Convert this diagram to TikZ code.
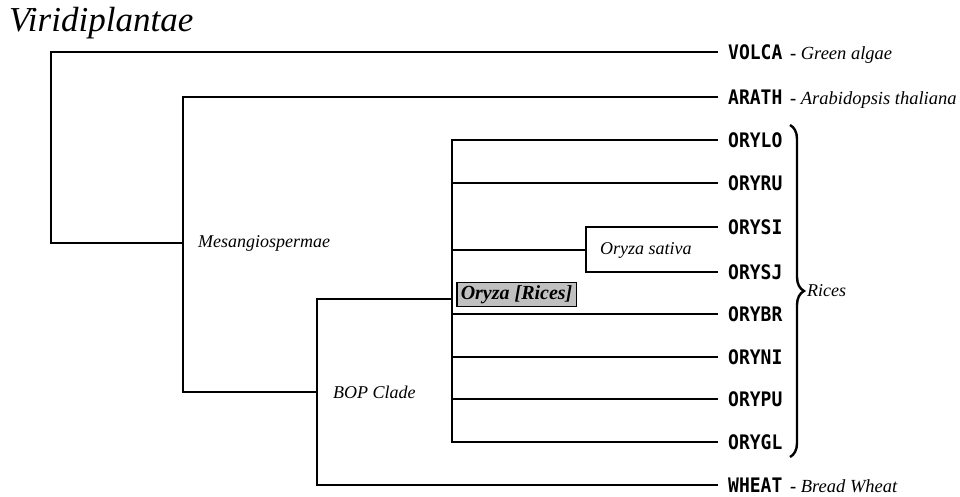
\documentclass[tikz,border=0pt]{standalone}
\usepackage{fontspec}
\setmainfont{Liberation Serif}
\newfontfamily\codefont{DejaVu Sans Mono}[FakeStretch=0.9]
\definecolor{cladegray}{RGB}{192,192,192}
\usetikzlibrary{positioning,decorations.pathreplacing}
\newcommand{\spname}[1]{{\rmfamily\fontsize{18.5}{20}\selectfont\bfseries\ \,-\ \mdseries\itshape #1}}

\begin{document}
\begin{tikzpicture}[x=1pt,y=-1pt,
  branch/.style={line width=1.7pt},
  leaf/.style={font=\codefont\bfseries\fontsize{20}{22}\selectfont,inner sep=0pt,
    text height=14.6pt,text depth=0pt},
  cladename/.style={font=\itshape\fontsize{18}{20}\selectfont,inner sep=0pt},
  cladebox/.style={draw,fill=cladegray,line width=1.5pt,inner xsep=4pt,inner ysep=3pt,
    font=\bfseries\itshape\fontsize{20}{22}\selectfont,text height=14pt,text depth=4pt},
  bracket/.style={decorate,decoration={brace,amplitude=14pt},line width=2.4pt}]
  \useasboundingbox (0,0) rectangle (960,497);

  \node[font=\itshape\fontsize{35}{40}\selectfont,anchor=base west,inner sep=0pt]
    (title) at (9,32) {Viridiplantae};

  % clades
  \coordinate (root) at (51,150);
  \coordinate (mesang) at (183,243);
  \coordinate (bop) at (317,392);
  \coordinate (oryza) at (452,299);
  \coordinate (sativa) at (586,250);

  % leaf tips
  \coordinate (tvolca) at (718,52);
  \coordinate (tarath) at (718,97);
  \coordinate (twheat) at (718,485);
  \coordinate (tSI) at (718,227);
  \coordinate (tSJ) at (718,272);

  \node[leaf,right=10pt of tvolca] (volca) {VOLCA\spname{Green algae}};
  \node[leaf,right=10pt of tarath] (arath) {ARATH\spname{Arabidopsis thaliana}};
  \node[leaf,right=10pt of twheat] (wheat) {WHEAT\spname{Bread Wheat}};

  \draw[branch] (root) |- (tvolca);
  \draw[branch] (root) |- (mesang);
  \draw[branch] (mesang) |- (tarath);
  \draw[branch] (mesang) |- (bop);
  \draw[branch] (bop) |- (oryza);
  \draw[branch] (bop) |- (twheat);
  \draw[branch] (oryza) |- (sativa);

  \foreach \n/\y in {LO/140,RU/183,BR/314,NI/357,PU/399,GL/442}{
    \coordinate (t\n) at (718,\y);
    \draw[branch] (oryza) |- (t\n);
  }
  \foreach \n in {LO,RU,SI,SJ,BR,NI,PU,GL}
    \node[leaf,right=10pt of t\n] (l\n) {ORY\n};
  \draw[branch] (sativa) |- (tSI);
  \draw[branch] (sativa) |- (tSJ);

  \node[cladename,right=15pt of mesang] (mesanglab) {Mesangiospermae};
  \node[cladename,right=16pt of bop] (boplab) {BOP Clade};
  \node[cladename,right=14pt of sativa] (sativalab) {Oryza sativa};
  \node[cladebox,anchor=west] (oryzalab) at ([shift={(4,-4.5)}]oryza) {Oryza [Rices]};

  \coordinate (bracetop) at (790,125);
  \coordinate (bracebot) at (790,457);
  \draw[bracket] (bracetop) -- node[cladename,right=16pt] (rices) {Rices} (bracebot);
\end{tikzpicture}
\end{document}
